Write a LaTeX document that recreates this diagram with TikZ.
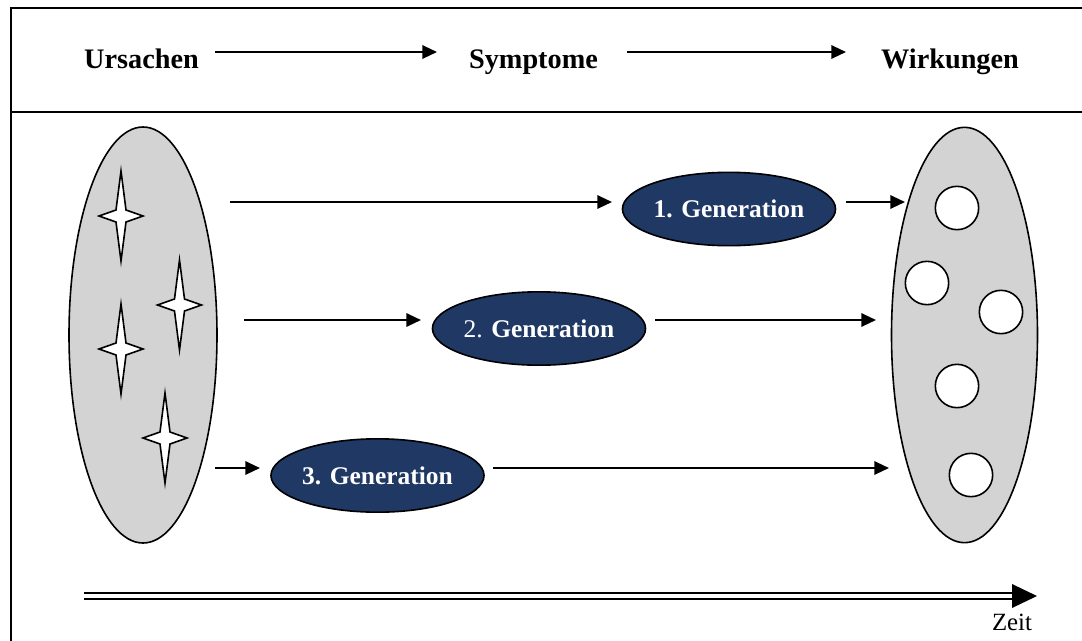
\documentclass[tikz,border=0pt]{standalone}
\usepackage{fontspec}
\setmainfont{Liberation Serif}
\usetikzlibrary{shapes.geometric,arrows.meta}
\definecolor{navy}{RGB}{31,56,100}
\definecolor{cloud}{RGB}{211,211,211}
\begin{document}
\begin{tikzpicture}[x=0.75pt,y=-0.75pt,
  frame/.style={line width=1.4pt, line cap=butt},
  head/.style={font=\fontsize{21.2}{25}\selectfont\bfseries, inner sep=0pt, anchor=base},
  flow/.style={line width=1.6pt, -{Triangle[length=11pt,width=10pt]}},
  pool/.style={ellipse, draw, line width=1.2pt, fill=cloud, inner sep=0pt},
  gen/.style={ellipse, draw, line width=1.2pt, fill=navy, text=white, inner sep=0pt,
    minimum width=153pt, minimum height=55pt,
    font=\fontsize{19.1}{22}\selectfont},
  effect/.style={circle, draw, line width=1.2pt, fill=white, minimum size=32.5pt, inner sep=0pt},
  sparkle/.pic={\draw[line width=1.2pt, fill=white, line join=miter]
      (0,-45) -- (5,-6) -- (22,0) -- (5,6) -- (0,45) -- (-5,6) -- (-22,0) -- (-5,-6) -- cycle;}]
\useasboundingbox (0,0) rectangle (1082,640);

% frame with header band
\draw[frame] (11,641) -- (11,8) -- (1083,8);
\draw[frame] (11,112) -- (1083,112);

% header: causes -> symptoms -> effects
\node[head] (cause) at (141.5,68) {Ursachen};
\node[head] (symp)  at (533.5,68) {Symptome};
\node[head] (effx)  at (950,68)   {Wirkungen};
\coordinate (h1s) at (215,52); \coordinate (h1e) at (437,52);
\coordinate (h2s) at (627,52); \coordinate (h2e) at (846,52);
\draw[flow] (h1s) -- (h1e);
\draw[flow] (h2s) -- (h2e);

% pool of causes
\node[pool, minimum width=111pt, minimum height=312pt] (causes) at (143,335) {};
\pic at (121,216) {sparkle};
\pic at (179.5,305) {sparkle};
\pic at (121,349) {sparkle};
\pic at (165,438) {sparkle};

% pool of effects
\node[pool, minimum width=109.5pt, minimum height=311.5pt] (effects) at (964.5,335) {};
\node[effect] (e1) at (957,208) {};
\node[effect] (e2) at (927,283) {};
\node[effect] (e3) at (1001,312) {};
\node[effect] (e4) at (957,386) {};
\node[effect] (e5) at (971,475) {};

% generations
\node[gen] (g1) at (729,209) {\textbf{1. Generation}};
\node[gen] (g2) at (539,328.5) {2. \textbf{Generation}};
\node[gen] (g3) at (377.5,475.5) {\textbf{3. Generation}};

% flows per generation
\coordinate (a1) at (230,202); \coordinate (b1) at (612,202);
\coordinate (c1) at (846,202); \coordinate (d1) at (905,202);
\coordinate (a2) at (244,320); \coordinate (b2) at (421,320);
\coordinate (c2) at (655,320); \coordinate (d2) at (876,320);
\coordinate (a3) at (215,468); \coordinate (b3) at (260,468);
\coordinate (c3) at (493,468); \coordinate (d3) at (889,468);
\draw[flow] (a1) -- (b1);
\draw[flow] (c1) -- (d1);
\draw[flow] (a2) -- (b2);
\draw[flow] (c2) -- (d2);
\draw[flow] (a3) -- (b3);
\draw[flow] (c3) -- (d3);

% time axis
\coordinate (t0) at (84,596);
\coordinate (t1) at (1015,596);
\draw[line width=1.5pt, double=white, double distance=3pt] (t0) -- (t1);
\fill (1012,584) -- (1037,596) -- (1012,608) -- cycle;
\node[font=\fontsize{18.6}{22}\selectfont, inner sep=0pt, anchor=base] (zeit) at (1012,630) {Zeit};
\end{tikzpicture}
\end{document}
